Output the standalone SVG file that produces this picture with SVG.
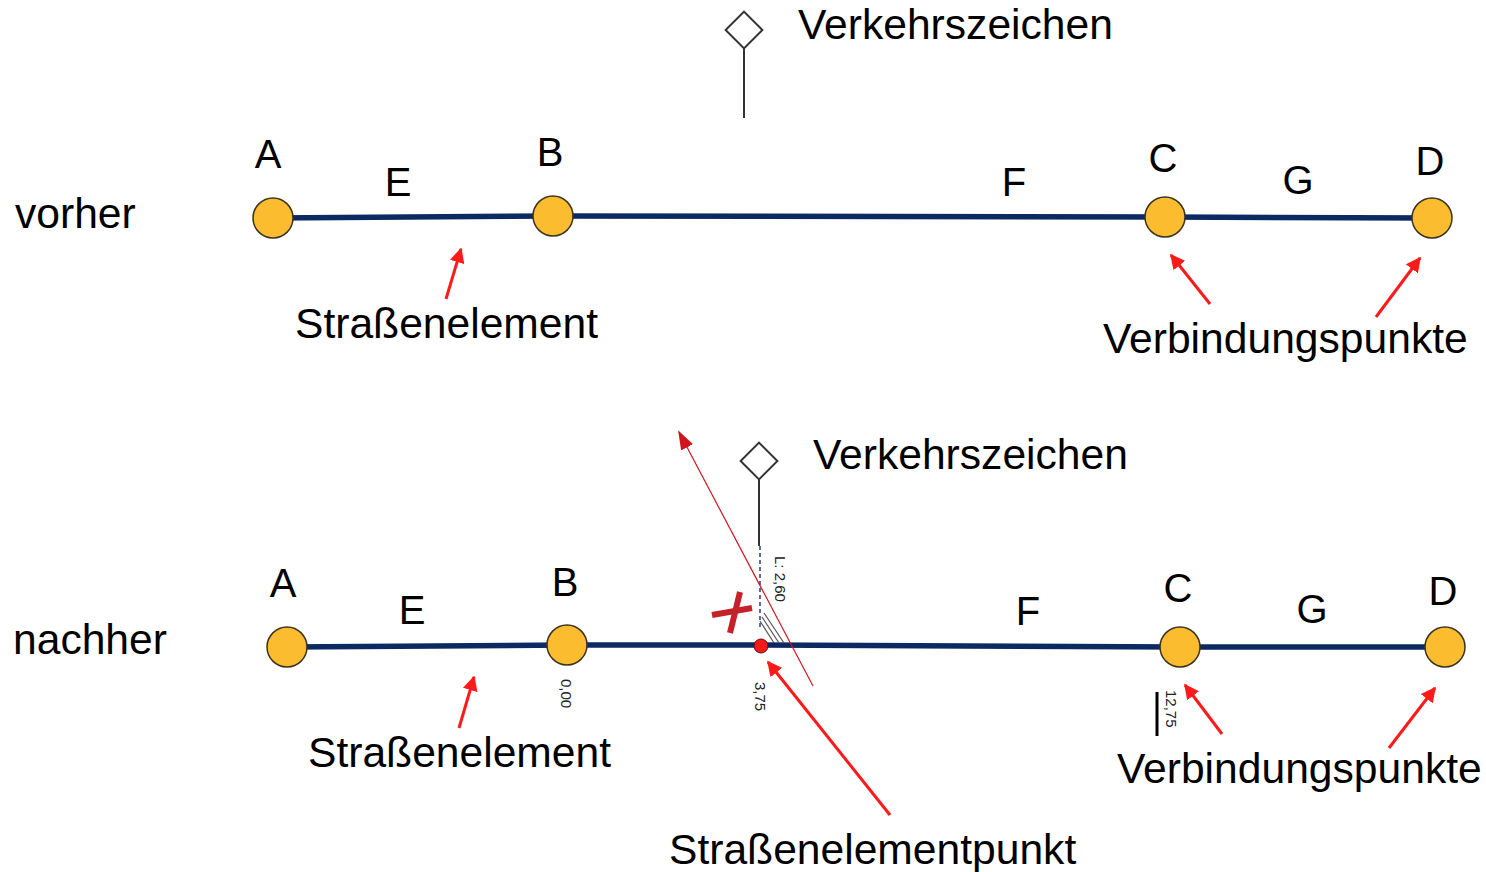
<svg xmlns="http://www.w3.org/2000/svg" width="1486" height="872" viewBox="0 0 1486 872">
  <defs>
    <marker id="redHead" viewBox="0 0 10 10" refX="9" refY="5" markerWidth="5" markerHeight="5" orient="auto" markerUnits="strokeWidth">
      <path d="M0,0 L10,5 L0,10 z" fill="#ff1a1a"/>
    </marker>
    <marker id="thinHead" viewBox="0 0 10 10" refX="9" refY="5" markerWidth="16" markerHeight="16" orient="auto" markerUnits="strokeWidth">
      <path d="M0,1.5 L10,5 L0,8.5 z" fill="#d0141e"/>
    </marker>
    <style>
      .lbl { font-family: "Liberation Sans", Arial, sans-serif; font-size: 42.6px; fill: #000; }
      .node-letter { font-family: "Liberation Sans", Arial, sans-serif; font-size: 40px; fill: #000; text-anchor: middle; }
      .tiny { font-family: "Liberation Sans", Arial, sans-serif; font-size: 15px; fill: #222; }
      .road { stroke: #0c2a62; stroke-width: 5.5; fill: none; }
      .vp { fill: #fbbd2f; stroke: #3a3320; stroke-width: 1.5; }
      .pointer { stroke: #ff1a1a; stroke-width: 3; fill: none; marker-end: url(#redHead); }
      .sign { fill: #fff; stroke: #333; stroke-width: 2; }
      .pole { stroke: #333; stroke-width: 2; }
    </style>
  </defs>

  <!-- ===== vorher ===== -->
  <text class="lbl" x="15" y="228">vorher</text>

  <g id="connectors-top">
    <path class="road" d="M273,218 L553,216 L1165,217 L1432,218"/>
    <line class="pole" x1="744" y1="48" x2="744" y2="118"/>
    <line class="pointer" x1="446" y1="299" x2="461" y2="249"/>
    <line class="pointer" x1="1210" y1="304" x2="1171" y2="255"/>
    <line class="pointer" x1="1376" y1="317" x2="1420" y2="258"/>
  </g>

  <g id="top-sign">
    <rect class="sign" x="731" y="17" width="26" height="26" transform="rotate(45 744 30)"/>
    <text class="lbl" x="798" y="39">Verkehrszeichen</text>
  </g>
  <g id="top-A"><circle class="vp" cx="273" cy="218" r="20"/><text class="node-letter" x="268" y="168">A</text></g>
  <g id="top-B"><circle class="vp" cx="553" cy="216" r="20"/><text class="node-letter" x="550" y="166">B</text></g>
  <g id="top-C"><circle class="vp" cx="1165" cy="217" r="20"/><text class="node-letter" x="1163" y="172">C</text></g>
  <g id="top-D"><circle class="vp" cx="1432" cy="218" r="20"/><text class="node-letter" x="1430" y="175">D</text></g>
  <g id="top-edges">
    <text class="node-letter" x="398" y="196">E</text>
    <text class="node-letter" x="1014" y="196">F</text>
    <text class="node-letter" x="1298" y="194">G</text>
  </g>
  <text class="lbl" x="295" y="338">Straßenelement</text>
  <text class="lbl" x="1103" y="353">Verbindungspunkte</text>

  <!-- ===== nachher ===== -->
  <text class="lbl" x="13" y="654">nachher</text>

  <g id="connectors-bottom">
    <path class="road" d="M287,647 L567,645 L761,645 L1180,647 L1445,647"/>
    <line class="pole" x1="759" y1="479" x2="759" y2="546"/>
    <line x1="760" y1="546" x2="760" y2="628" stroke="#2a3a8a" stroke-width="1.5" stroke-dasharray="4,3"/>
    <g stroke="#555" stroke-width="1.2">
      <line x1="760" y1="621" x2="774" y2="643"/>
      <line x1="762" y1="617" x2="779" y2="643"/>
      <line x1="764" y1="613" x2="784" y2="643"/>
    </g>
    <line x1="813" y1="686" x2="679" y2="432" stroke="#d0141e" stroke-width="1.2" marker-end="url(#thinHead)"/>
    <line class="pointer" x1="459" y1="728" x2="474" y2="677"/>
    <line class="pointer" x1="1222" y1="734" x2="1185" y2="685"/>
    <line class="pointer" x1="1389" y1="748" x2="1435" y2="688"/>
    <line class="pointer" x1="890" y1="815" x2="768" y2="662"/>
    <line x1="1157" y1="692" x2="1157" y2="736" stroke="#000" stroke-width="3"/>
  </g>

  <g id="bottom-sign">
    <rect class="sign" x="746" y="448" width="26" height="26" transform="rotate(45 759 461)"/>
    <text class="lbl" x="813" y="469">Verkehrszeichen</text>
  </g>
  <g id="bottom-A"><circle class="vp" cx="287" cy="647" r="20"/><text class="node-letter" x="283" y="597">A</text></g>
  <g id="bottom-B"><circle class="vp" cx="567" cy="645" r="20"/><text class="node-letter" x="565" y="596">B</text></g>
  <g id="bottom-C"><circle class="vp" cx="1180" cy="647" r="20"/><text class="node-letter" x="1178" y="602">C</text></g>
  <g id="bottom-D"><circle class="vp" cx="1445" cy="647" r="20"/><text class="node-letter" x="1443" y="605">D</text></g>
  <g id="road-point"><circle cx="761" cy="646" r="7" fill="#f51a1a" stroke="#5a1010" stroke-width="1"/></g>
  <g id="bottom-edges">
    <text class="node-letter" x="412" y="624">E</text>
    <text class="node-letter" x="1028" y="625">F</text>
    <text class="node-letter" x="1312" y="623">G</text>
  </g>

  <!-- removed link marker -->
  <g id="cross" stroke="#c4222a" stroke-width="6" stroke-linecap="butt">
    <line x1="712" y1="615" x2="752" y2="608"/>
    <line x1="740" y1="592" x2="730" y2="633"/>
  </g>

  <!-- station values -->
  <g id="stations">
    <text class="tiny" transform="translate(775,556) rotate(90)">L: 2,60</text>
    <text class="tiny" transform="translate(755,682) rotate(90)">3,75</text>
    <text class="tiny" transform="translate(561,679) rotate(90)">0,00</text>
    <text class="tiny" transform="translate(1166,690) rotate(90)">12,75</text>
  </g>

  <text class="lbl" x="308" y="767">Straßenelement</text>
  <text class="lbl" x="1117" y="783">Verbindungspunkte</text>
  <text class="lbl" x="669" y="864">Straßenelementpunkt</text>
</svg>
